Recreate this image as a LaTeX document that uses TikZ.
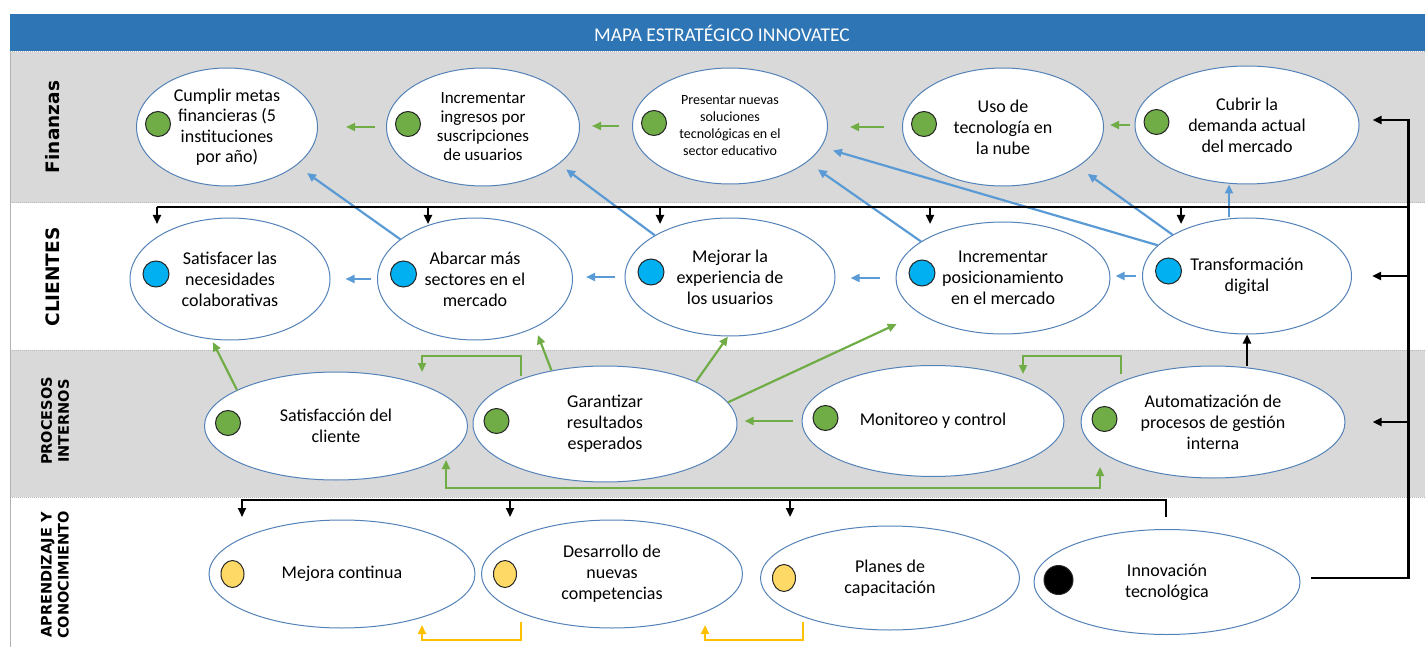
\documentclass[tikz,border=0pt]{standalone}
\usepackage{fontspec}
\setmainfont{Carlito}
\newfontfamily\labfont{DejaVu Sans}
\usepackage{xcolor}
\usetikzlibrary{shapes.geometric,arrows.meta,positioning}

\definecolor{barblue}{RGB}{46,117,182}
\definecolor{bandgray}{RGB}{217,217,217}
\definecolor{ovalline}{RGB}{84,130,184}
\definecolor{ballgreen}{RGB}{112,173,71}
\definecolor{ballblue}{RGB}{0,176,240}
\definecolor{ballyellow}{RGB}{255,217,102}
\definecolor{linegreen}{RGB}{112,173,71}
\definecolor{lineblue}{RGB}{91,155,213}
\definecolor{lineyellow}{RGB}{255,192,0}

\begin{document}
\begin{tikzpicture}[x=1pt,y=-1pt,
  obj/.style={ellipse,draw=ovalline,fill=white,line width=1pt,inner sep=0pt,align=center,font=\fontsize{18}{21}\selectfont},
  ball/.style={circle,draw=black!85,line width=1pt,inner sep=0pt,minimum size=25pt},
  gball/.style={ball,fill=ballgreen},
  bball/.style={ball,fill=ballblue,minimum size=26pt},
  yball/.style={ellipse,draw=black!85,line width=1pt,inner sep=0pt,fill=ballyellow,minimum width=23pt,minimum height=27pt},
  kball/.style={ball,fill=black,minimum size=29pt},
  rowlab/.style={rotate=90,align=center,font=\labfont\bfseries\fontsize{18.5}{20}\selectfont},
  rowlabtwo/.style={rowlab,font=\labfont\bfseries\fontsize{14.5}{17}\selectfont},
  tip/.style={-{Triangle[length=9pt,width=8pt]}},
  garr/.style={draw=linegreen,line width=2.2pt,tip},
  garrtwo/.style={draw=linegreen,line width=2.2pt,{Triangle[length=9pt,width=8pt]}-{Triangle[length=9pt,width=8pt]}},
  barr/.style={draw=lineblue,line width=2.2pt,tip},
  yarr/.style={draw=lineyellow,line width=2.2pt,tip},
  blk/.style={draw=black,line width=2.2pt},
  blkarr/.style={blk,tip}]
\useasboundingbox (0,0) rectangle (1425,647);

% bands
\fill[bandgray] (10,52) rectangle (1425,203);
\fill[bandgray] (10,350) rectangle (1425,497);
\foreach \yy in {52,203,350,497}
  \draw[gray!55,densely dotted,line width=1pt] (10,\yy) -- (1425,\yy);
\draw[gray!60,line width=1pt] (10,14) -- (10,647);
\fill[barblue] (10,14) rectangle (1425,51);
\node[text=white,font=\fontsize{19.5}{22}\selectfont] (title) at (722,33) {MAPA ESTRATÉGICO INNOVATEC};

\node[rowlab] (labF) at (53,127) {Finanzas};
\node[rowlab] (labC) at (53,277) {CLIENTES};
\node[rowlabtwo] (labP) at (55,421) {PROCESOS\\INTERNOS};
\node[rowlabtwo] (labA) at (55,575) {APRENDIZAJE Y\\CONOCIMIENTO};

% finanzas
\node[obj,minimum width=181pt,minimum height=118pt,font=\fontsize{18}{20.5}\selectfont] (F1) at (227,127) {Cumplir metas\\financieras (5\\instituciones\\por año)};
\node[obj,minimum width=193pt,minimum height=118pt,font=\fontsize{17}{19}\selectfont] (F2) at (483,127) {Incrementar\\ingresos por\\suscripciones\\de usuarios};
\node[obj,minimum width=195pt,minimum height=116pt,font=\fontsize{14}{17}\selectfont] (F3) at (730,126) {Presentar nuevas\\soluciones\\tecnológicas en el\\sector educativo};
\node[obj,minimum width=201pt,minimum height=118pt] (F4) at (1003,127) {Uso de\\tecnología en\\la nube};
\node[obj,minimum width=224pt,minimum height=118pt] (F5) at (1247,125) {Cubrir la\\demanda actual\\del mercado};

% clientes
\node[obj,minimum width=200pt,minimum height=122pt] (C1) at (230,279) {Satisfacer las\\necesidades\\colaborativas};
\node[obj,minimum width=195pt,minimum height=122pt] (C2) at (475,279) {Abarcar más\\sectores en el\\mercado};
\node[obj,minimum width=210pt,minimum height=118pt] (C3) at (730,277) {Mejorar la\\experiencia de\\los usuarios};
\node[obj,minimum width=214pt,minimum height=112pt] (C4) at (1003,278) {Incrementar\\posicionamiento\\en el mercado};
\node[obj,minimum width=209pt,minimum height=116pt] (C5) at (1247,276) {Transformación\\digital};

% procesos internos
\node[obj,minimum width=263pt,minimum height=108pt] (P1) at (336,426) {Satisfacción del\\cliente};
\node[obj,minimum width=264pt,minimum height=116pt] (P2) at (605,424) {Garantizar\\resultados\\esperados};
\node[obj,minimum width=262pt,minimum height=111pt] (P3) at (933,421) {Monitoreo y control};
\node[obj,minimum width=264pt,minimum height=112pt] (P4) at (1213,422) {Automatización de\\procesos de gestión\\interna};

% aprendizaje
\node[obj,minimum width=266pt,minimum height=108pt] (A1) at (342,574) {Mejora continua};
\node[obj,minimum width=261pt,minimum height=108pt] (A2) at (612,574) {Desarrollo de\\nuevas\\competencias};
\node[obj,minimum width=259pt,minimum height=104pt] (A3) at (890,578) {Planes de\\capacitación};
\node[obj,minimum width=266pt,minimum height=105pt] (A4) at (1167,582) {Innovación\\tecnológica};

% balls
\foreach \n in {F1,F2,F3,F4,F5}
  \node[gball,right=9pt of \n.west,yshift=3pt] (b\n) {};
\foreach \n in {C1,C2,C3,C4,C5}
  \node[bball,right=13pt of \n.west,yshift=5pt] (b\n) {};
\foreach \n in {P1,P2,P3,P4}
  \node[gball,right=11pt of \n.west,yshift=3pt] (b\n) {};
\foreach \n in {A1,A2,A3}
  \node[yball,right=12pt of \n.west] (b\n) {};
\node[kball,right=10pt of A4.west,yshift=2pt] (bA4) {};

% green, finanzas row
\path (F2.west) edge[garr,shorten <=11pt,shorten >=28pt] (F2.west -| F1.east);
\path (F3.west) edge[garr,shorten <=13pt,shorten >=12pt] (F3.west -| F2.east);
\path (F4.west) edge[garr,shorten <=18pt,shorten >=22pt] (F4.west -| F3.east);
\path (F5.west) edge[garr,shorten <=5pt,shorten >=6pt] (F5.west -| F4.east);

% blue, clientes row
\path (C2.west) edge[barr,shorten <=6pt,shorten >=15pt] (C2.west -| C1.east);
\path (C3.west) edge[barr,shorten <=10pt,shorten >=13pt] (C3.west -| C2.east);
\path (C4.west) edge[barr,shorten <=16pt,shorten >=15pt] (C4.west -| C3.east);
\path (C5.west) edge[barr,shorten <=6pt,shorten >=5pt] (C5.west -| C4.east);
\draw[barr,shorten >=13pt] (C2.152) -- (F1.-29);
\draw[barr,shorten >=9pt] (C3.151) -- (F2.-26);
\draw[barr,shorten >=13pt] (C4.156) -- (F3.-25);
\draw[barr,shorten >=12pt] (C5.161) -- (F3.-13);
\draw[barr,shorten >=12pt] (C5.151) -- (F4.-28);
\draw[barr] ([xshift=-18pt]C5.north) -- ([xshift=-18pt]F5.south);

% green, procesos row
\draw[garr,shorten >=3pt] (P1.160) -- (C1.-107);
\draw[garr,shorten >=8pt] (P2.135) -- (C2.-39);
\draw[garr] (P2.25) -- (C3.-92);
\draw[garr,shorten >=25pt] (P2.10) -- (C4.-157);
\path (P3.west) edge[garr,shorten <=9pt,shorten >=7pt] (P3.west -| P2.east);
\coordinate (e1s) at ([shift={(-84,-48)}]P2.center);
\coordinate (e1t) at ([shift={(86,-54)}]P1.center);
\draw[garr] (e1s) -- ++(0,-20) -| (e1t);
\coordinate (e2s) at ([shift={(-92,-48)}]P4.center);
\coordinate (e2t) at ([shift={(90,-47)}]P3.center);
\draw[garr] (e2s) -- ++(0,-18) -| (e2t);
\coordinate (e3a) at ([shift={(110,34)}]P1.center);
\coordinate (e3b) at ([shift={(-113,45)}]P4.center);
\draw[garrtwo] (e3a) -- ++(0,28) -| (e3b);

% yellow, aprendizaje row
\coordinate (y1s) at ([shift={(-91,48)}]A2.center);
\coordinate (y1t) at ([shift={(80,51)}]A1.center);
\draw[yarr] (y1s) -- ++(0,18) -| (y1t);
\coordinate (y2s) at ([shift={(-87,44)}]A3.center);
\coordinate (y2t) at ([shift={(93,51)}]A2.center);
\draw[yarr] (y2s) -- ++(0,18) -| (y2t);

% black lines from innovacion
\coordinate (rt) at ([shift={(49,-5)}]F5.east);
\coordinate (f5t) at ([shift={(13,-5)}]F5.east);
\draw[blkarr] ([shift={(10,-4)}]A4.east) -| (rt) -- (f5t);
\draw[blkarr,shorten >=20pt] (rt |- C5.east) -- (C5.east);
\draw[blkarr,shorten >=27pt] (rt |- P4.east) -- (P4.east);
\draw[blkarr] (P4.north -| C5.south) -- (C5.south);

\path (rt) ++(0,87) coordinate (tb);
\coordinate (d1) at ([shift={(-73,-55)}]C1.center);
\coordinate (d2) at ([shift={(-47,-55)}]C2.center);
\coordinate (d3) at ([shift={(-70,-53)}]C3.center);
\coordinate (d4) at ([shift={(-73,-54)}]C4.center);
\coordinate (d5) at ([shift={(-66,-52)}]C5.center);
\draw[blk] (tb) -- (tb -| d1);
\foreach \d in {d1,d2,d3,d4,d5}
  \draw[blkarr] (tb -| \d) -- (\d);

\coordinate (k0) at ([shift={(-1,-65)}]A4.center);
\coordinate (k1) at ([shift={(-100,-57)}]A1.center);
\coordinate (k2) at ([shift={(-102,-57)}]A2.center);
\coordinate (k3) at ([shift={(-100,-61)}]A3.center);
\draw[blkarr] (k0) -- ++(0,-17) coordinate (kb) -| (k1);
\draw[blkarr] (kb -| k2) -- (k2);
\draw[blkarr] (kb -| k3) -- (k3);
\end{tikzpicture}
\end{document}
